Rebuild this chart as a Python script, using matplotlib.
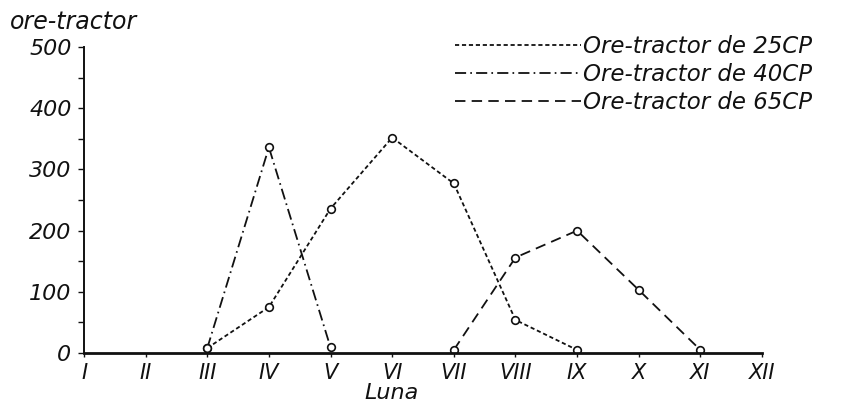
import matplotlib
matplotlib.use("Agg")
import matplotlib.pyplot as plt
from matplotlib.lines import Line2D

plt.rcParams["font.family"] = ["DejaVu Sans"]
plt.rcParams["lines.scale_dashes"] = False

# Months of the year (Roman numerals) and working hours per tractor class
month_labels = ["I", "II", "III", "IV", "V", "VI", "VII", "VIII", "IX", "X", "XI", "XII"]
month_pos = list(range(1, 13))

months_25 = [3, 4, 5, 6, 7, 8, 9]
hours_25 = [8, 75, 236, 352, 277, 54, 5]

months_40 = [3, 4, 5]
hours_40 = [8, 336, 9]

months_65 = [7, 8, 9, 10, 11]
hours_65 = [5, 156, 200, 103, 5]

series_names = ["Ore-tractor de 25CP", "Ore-tractor de 40CP", "Ore-tractor de 65CP"]
y_ticks = [0, 100, 200, 300, 400, 500]

ink = "#111111"
dash_25 = (3.0, 2.0)
dash_40 = (8.0, 3.0, 1.2, 3.0)
dash_65 = (7.5, 4.5)

fig = plt.figure(figsize=(8.41, 4.05), dpi=100)
ax = fig.add_axes([84 / 841, 52 / 405, (762 - 84) / 841, (353 - 47) / 405])

marker_kw = dict(marker="o", markersize=5.5, markerfacecolor="white",
                 markeredgecolor=ink, markeredgewidth=1.2, color=ink, linewidth=1.3)

ax.plot(months_25, hours_25, dashes=dash_25, **marker_kw)
ax.plot(months_40, hours_40, dashes=dash_40, **marker_kw)
ax.plot(months_65, hours_65, dashes=dash_65, **marker_kw)

ax.set_xlim(1, 11.95)
ax.set_ylim(0, 500)
for side in ("top", "right"):
    ax.spines[side].set_visible(False)
ax.spines["left"].set_linewidth(1.4)
ax.spines["bottom"].set_linewidth(2.0)
ax.spines["left"].set_color(ink)
ax.spines["bottom"].set_color(ink)

ax.set_xticks(month_pos)
ax.set_xticklabels(month_labels, fontsize=15, fontstyle="italic", color=ink)
ax.set_yticks(y_ticks)
ax.set_yticklabels([str(v) for v in y_ticks], fontsize=16, fontstyle="italic", color=ink)
ax.set_yticks(list(range(50, 500, 100)), minor=True)
ax.tick_params(axis="y", which="both", length=4, width=1, direction="out", pad=5, colors=ink)
ax.tick_params(axis="x", length=3, width=1, direction="out", pad=4, colors=ink)

ax.set_xlabel("Luna", fontsize=16, fontstyle="italic", color=ink)
ax.xaxis.label.set_verticalalignment("center")
ax.xaxis.set_label_coords((392 - 84) / (762 - 84), -(393 - 353) / 306)
fig.text(10 / 841, 1 - 22 / 405, "ore-tractor", fontsize=17, fontstyle="italic",
         color=ink, ha="left", va="center")

handles = [
    Line2D([], [], color=ink, linewidth=1.3, dashes=dash_25),
    Line2D([], [], color=ink, linewidth=1.3, dashes=dash_40),
    Line2D([], [], color=ink, linewidth=1.3, dashes=dash_65),
]
fig.legend(handles, series_names, loc="upper left",
           bbox_to_anchor=(455 / 841, 1 - 35 / 405), frameon=False,
           prop=dict(size=16.5, style="italic"), handlelength=5.5,
           handletextpad=0.1, labelspacing=0.22, borderpad=0, borderaxespad=0,
           labelcolor=ink)

fig.savefig("out.png", dpi=100, facecolor="white")
